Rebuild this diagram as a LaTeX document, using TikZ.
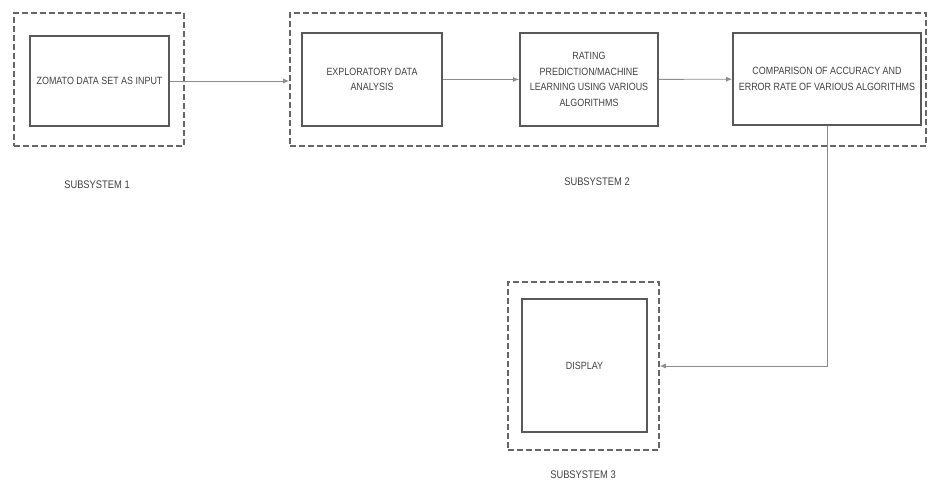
\documentclass[tikz,border=0pt]{standalone}
\usepackage{fontspec}
\setmainfont{Liberation Sans}[FakeStretch=0.85]
\usetikzlibrary{arrows.meta}

\begin{document}
\begin{tikzpicture}[x=1pt,y=-1pt,
  block/.style={draw=black!65, line width=1.8pt, align=center, inner sep=0pt,
    font=\fontsize{10.5}{15.5}\selectfont, text=black!75},
  group/.style={draw=black!60, dash pattern=on 6pt off 3pt, line width=1.6pt},
  link/.style={draw=black!45, line width=0.9pt, -{Latex[length=6pt,width=5pt]}},
  caption/.style={font=\fontsize{11}{12}\selectfont, text=black!75}]
  \useasboundingbox (0,0) rectangle (929,484);
  % subsystem 1
  \node[group, minimum width=170pt, minimum height=133pt] (grp1) at (99,79.5) {};
  \node[block, minimum width=139pt, minimum height=90pt] (data) at (99.5,81) {ZOMATO DATA SET AS INPUT};
  \node[caption] (cap1) at (97,185) {SUBSYSTEM 1};
  % subsystem 2
  \node[group, minimum width=636pt, minimum height=133pt] (grp2) at (608,79.5) {};
  \node[block, minimum width=140pt, minimum height=93pt] (eda) at (372,79.5) {EXPLORATORY DATA\\ANALYSIS};
  \node[block, minimum width=138pt, minimum height=93pt] (rating) at (589,79.5) {RATING\\PREDICTION/MACHINE\\LEARNING USING VARIOUS\\ALGORITHMS};
  \node[block, minimum width=188pt, minimum height=92pt] (cmp) at (827,79) {COMPARISON OF ACCURACY AND\\ERROR RATE OF VARIOUS ALGORITHMS};
  \node[caption] (cap2) at (597,182) {SUBSYSTEM 2};
  % subsystem 3
  \node[group, minimum width=151pt, minimum height=168pt] (grp3) at (583.5,366) {};
  \node[block, minimum width=125pt, minimum height=133pt] (disp) at (584.5,365.5) {DISPLAY};
  \node[caption] (cap3) at (583,475) {SUBSYSTEM 3};
  % connectors
  \draw[link] (data.east) -- (data.east -| grp2.west);
  \draw[link] (eda) -- (rating);
  \draw[link] (rating) -- (cmp);
  \draw[link] (cmp.south) |- (grp3.east);
\end{tikzpicture}
\end{document}
